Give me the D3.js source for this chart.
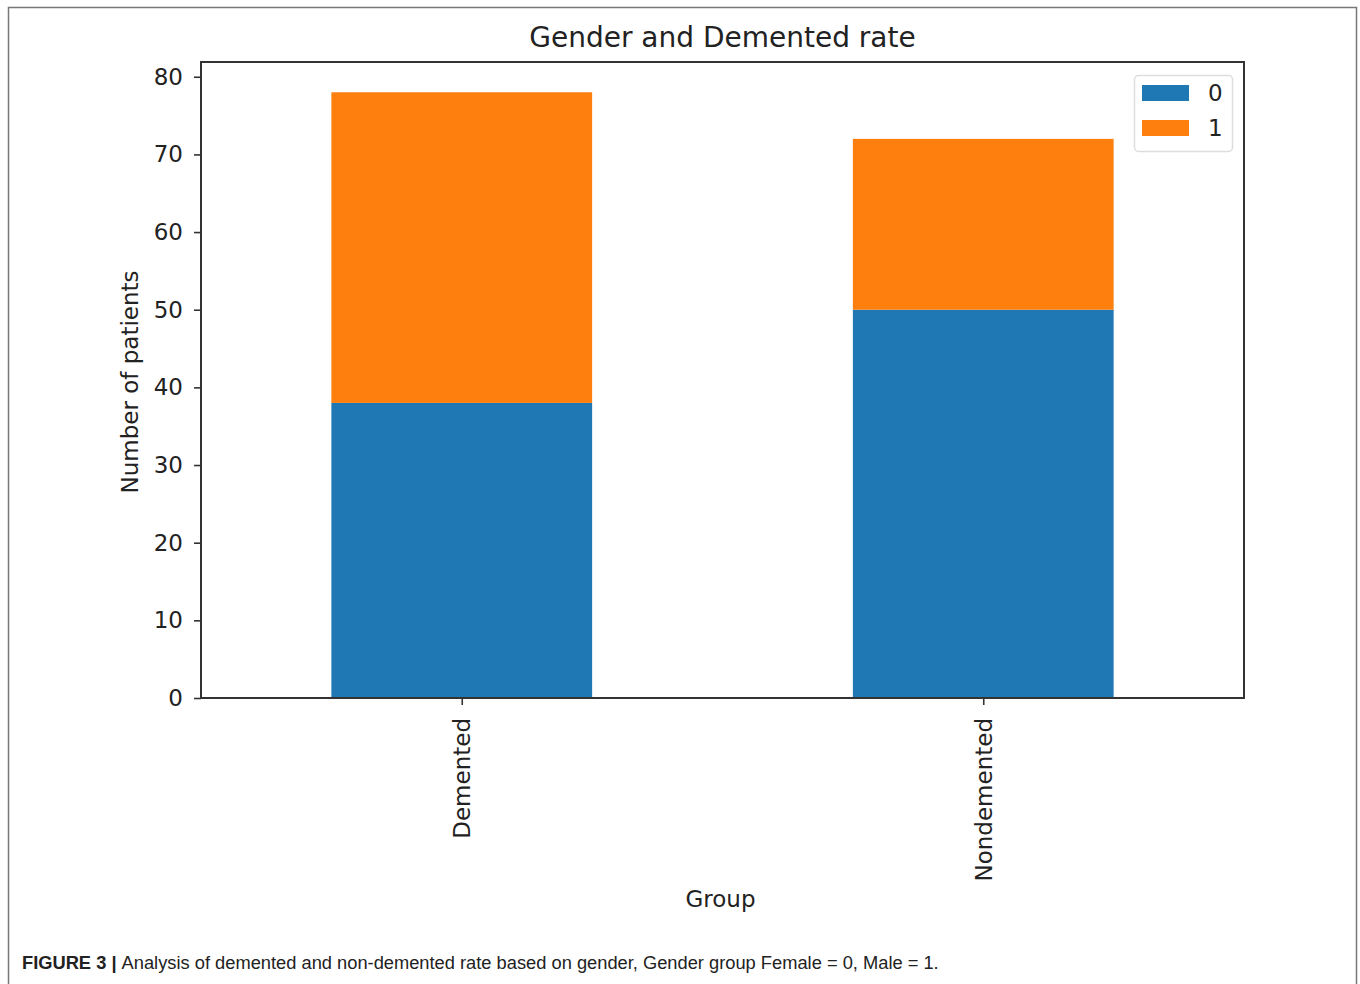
<!DOCTYPE html>
<html><head><meta charset="utf-8">
<script src="https://cdn.jsdelivr.net/npm/d3@7"></script>
<style>body{margin:0;background:#fff;} svg{display:block;}</style>
</head><body>
<svg id="chart" width="1360" height="984"></svg>
<script>
const categories = ["Demented", "Nondemented"];
const seriesKeys = ["0", "1"];
const series0 = [38, 50];
const series1 = [40, 22];
const yTicks = [0, 10, 20, 30, 40, 50, 60, 70, 80];
const colors = ["#1f77b4", "#ff7f0e"];
const titleText = "Gender and Demented rate";
const yLabel = "Number of patients";
const xLabel = "Group";

const svg = d3.select("#chart");
const font = "DejaVu Sans, sans-serif";
// outer frame
svg.append("path").attr("d", "M8.5,984 L8.5,7.5 L1356.5,7.5 L1356.5,984")
  .attr("fill", "none").attr("stroke", "#777").attr("stroke-width", 1.5);

const L = 201, R = 1244, T = 62, B = 698;
const rows = categories.map((c, i) => ({cat: c, "0": series0[i], "1": series1[i]}));
const stack = d3.stack().keys(seriesKeys)(rows);
const ymax = d3.max(rows, d => d["0"] + d["1"]) * 1.05;

const x = d3.scaleLinear().domain([-0.5, categories.length - 0.5]).range([L, R]);
const y = d3.scaleLinear().domain([0, ymax]).range([B, T]);
const bw = x(0.25) - x(-0.25);

stack.forEach((s, k) => {
  svg.append("g").selectAll("rect").data(s).join("rect")
    .attr("x", (d, i) => x(i) - bw / 2)
    .attr("width", bw)
    .attr("y", d => y(d[1]))
    .attr("height", d => y(d[0]) - y(d[1]))
    .attr("fill", colors[k]);
});

// axes
const yAxis = svg.append("g").attr("transform", `translate(${L},0)`)
  .call(d3.axisLeft(y).tickValues(yTicks).tickSize(7).tickPadding(11));
const xAxis = svg.append("g").attr("transform", `translate(0,${B})`)
  .call(d3.axisBottom(x).tickValues(categories.map((c, i) => i)).tickFormat(i => categories[i]).tickSize(7));
[yAxis, xAxis].forEach(a => {
  a.select(".domain").remove();
  a.selectAll("line").attr("stroke", "#333").attr("stroke-width", 1.6);
  a.selectAll("text").attr("font-family", font).attr("font-size", 23).attr("fill", "#222");
});
xAxis.selectAll("text")
  .attr("transform", "rotate(-90)")
  .attr("text-anchor", "end")
  .attr("x", -20).attr("y", 0).attr("dy", "0.35em");

// frame of plot area
svg.append("rect").attr("x", L).attr("y", T).attr("width", R - L).attr("height", B - T)
  .attr("fill", "none").attr("stroke", "#333").attr("stroke-width", 2);

// title & labels
svg.append("text").attr("x", (L + R) / 2).attr("y", 47).attr("text-anchor", "middle")
  .attr("font-family", font).attr("font-size", 28).attr("fill", "#222").text(titleText);
svg.append("text").attr("transform", `translate(138,${(T + B) / 2 + 2}) rotate(-90)`)
  .attr("text-anchor", "middle").attr("font-family", font).attr("font-size", 23).attr("fill", "#222").text(yLabel);
svg.append("text").attr("x", (L + R) / 2 - 2).attr("y", 907).attr("text-anchor", "middle")
  .attr("font-family", font).attr("font-size", 23).attr("fill", "#222").text(xLabel);

// legend
const lg = svg.append("g");
lg.append("rect").attr("x", 1134.5).attr("y", 75.5).attr("width", 98).attr("height", 76).attr("rx", 4)
  .attr("fill", "#fff").attr("stroke", "#ddd").attr("stroke-width", 1.5);
seriesKeys.forEach((k, i) => {
  lg.append("rect").attr("x", 1142).attr("y", 85 + i * 35).attr("width", 47).attr("height", 16).attr("fill", colors[i]);
  lg.append("text").attr("x", 1208).attr("y", 101 + i * 35).attr("font-family", font).attr("font-size", 23)
    .attr("fill", "#222").text(k);
});

// caption
const cap = svg.append("text").attr("x", 22).attr("y", 969).attr("font-family", "Liberation Sans, Arial, sans-serif")
  .attr("font-size", 18.3).attr("fill", "#222");
cap.append("tspan").attr("font-weight", "bold").text("FIGURE 3 | ");
cap.append("tspan").text("Analysis of demented and non-demented rate based on gender, Gender group Female = 0, Male = 1.");
</script>
</body></html>
